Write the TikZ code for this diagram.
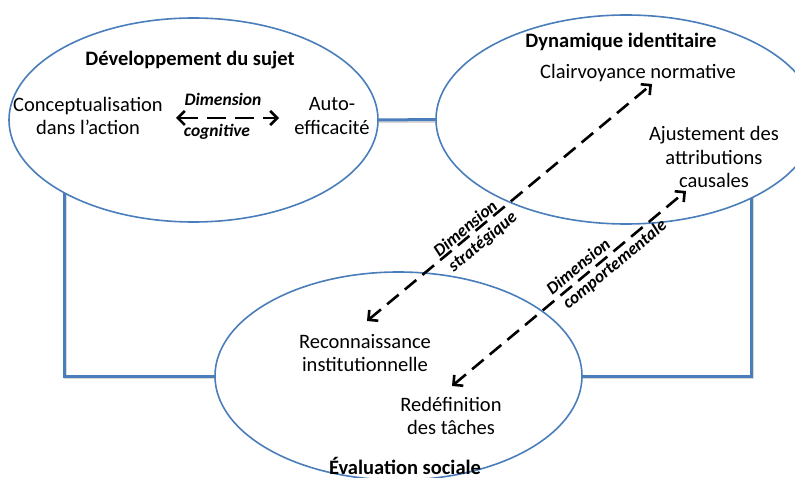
\documentclass[tikz,border=0pt]{standalone}
\usepackage{fontspec}
\setmainfont{Carlito}
\usetikzlibrary{arrows.meta,shapes.geometric,backgrounds}
\definecolor{frameblue}{RGB}{74,126,187}
\begin{document}
\begin{tikzpicture}[x=1pt,y=-1pt,
  bubble/.style={draw=frameblue,line width=1.6pt,ellipse,fill=white,inner sep=0pt,outer sep=0pt},
  frameline/.style={draw=frameblue,line width=3pt},
  frameshadow/.style={draw=black!15,line width=3.5pt},
  txt/.style={font=\fontsize{20.5}{23.5}\selectfont,align=center,inner sep=0pt},
  ttl/.style={font=\fontsize{20.5}{23.5}\selectfont\bfseries,inner sep=0pt},
  dimlbl/.style={font=\fontsize{17.5}{20}\selectfont\bfseries\itshape,inner sep=0pt},
  barb/.tip={Straight Barb[length=7pt,width=14pt,line width=2.6pt]},
  dimarrow/.style={line width=2.6pt,dash pattern=on 15pt off 8pt,barb-barb}
]
\useasboundingbox (0,0) rectangle (795,478);

% ellipses
\node[bubble,minimum width=369pt,minimum height=204pt] (L) at (193.5,120) {};
\node[bubble,minimum width=380pt,minimum height=209pt] (R) at (626,119.5) {};
\node[bubble,minimum width=367pt,minimum height=208pt] (B) at (398.5,376) {};

% frame connecting the ellipses
\coordinate (fl) at (64,120);
\coordinate (fr) at (751,120);
\begin{scope}[on background layer]
  \draw[frameshadow] ([shift={(1.5,1.5)}]fl) |- ([shift={(0,1.5)}]B.center);
  \draw[frameshadow] ([shift={(1.5,1.5)}]fr) |- ([shift={(0,1.5)}]B.center);
  \draw[frameshadow] ([shift={(0,1.5)}]L.center) -- ([shift={(0,1.5)}]R.center);
  \draw[frameline] (fl) |- (B.center);
  \draw[frameline] (fr) |- (B.center);
  \draw[frameline] (L.center) -- (R.center);
\end{scope}

% texts: Développement du sujet
\node[ttl] (t1) at (190,60) {Développement du sujet};
\node[txt] (concept) at (88,116) {Conceptualisation\\dans l’action};
\node[txt] (auto) at (332,116) {Auto-\\efficacité};
\node[dimlbl] (dc1) at (223,99) {Dimension};
\node[dimlbl] (dc2) at (217,132) {cognitive};
\coordinate (ca) at (176,118);
\coordinate (cb) at (279,118);
\draw[dimarrow,dash pattern=on 19pt off 9pt] (ca) -- (cb);

% Dynamique identitaire
\node[ttl] (t2) at (621,42) {Dynamique identitaire};
\node[txt] (clair) at (638,73) {Clairvoyance normative};
\node[txt] (ajust) at (714,157) {Ajustement des\\attributions\\causales};

% Évaluation sociale
\node[ttl] (t3) at (405,466) {Évaluation sociale};
\node[txt] (recon) at (365,353) {Reconnaissance\\institutionnelle};
\node[txt] (redef) at (451,416) {Redéfinition\\des tâches};

% diagonal arrows
\coordinate (sa) at (367,321);
\coordinate (sb) at (652,84);
\draw[dimarrow] (sa) -- (sb);
\coordinate (pa) at (452,386);
\coordinate (pb) at (686,191);
\draw[dimarrow] (pa) -- (pb);

\node[dimlbl,rotate=39.7] (ds1) at (465,228) {Dimension};
\node[dimlbl,rotate=39.7] (ds2) at (483,242) {stratégique};
\node[dimlbl,rotate=39.7] (dp1) at (578,266) {Dimension};
\node[dimlbl,rotate=39.7] (dp2) at (615,265) {comportementale};
\end{tikzpicture}
\end{document}
